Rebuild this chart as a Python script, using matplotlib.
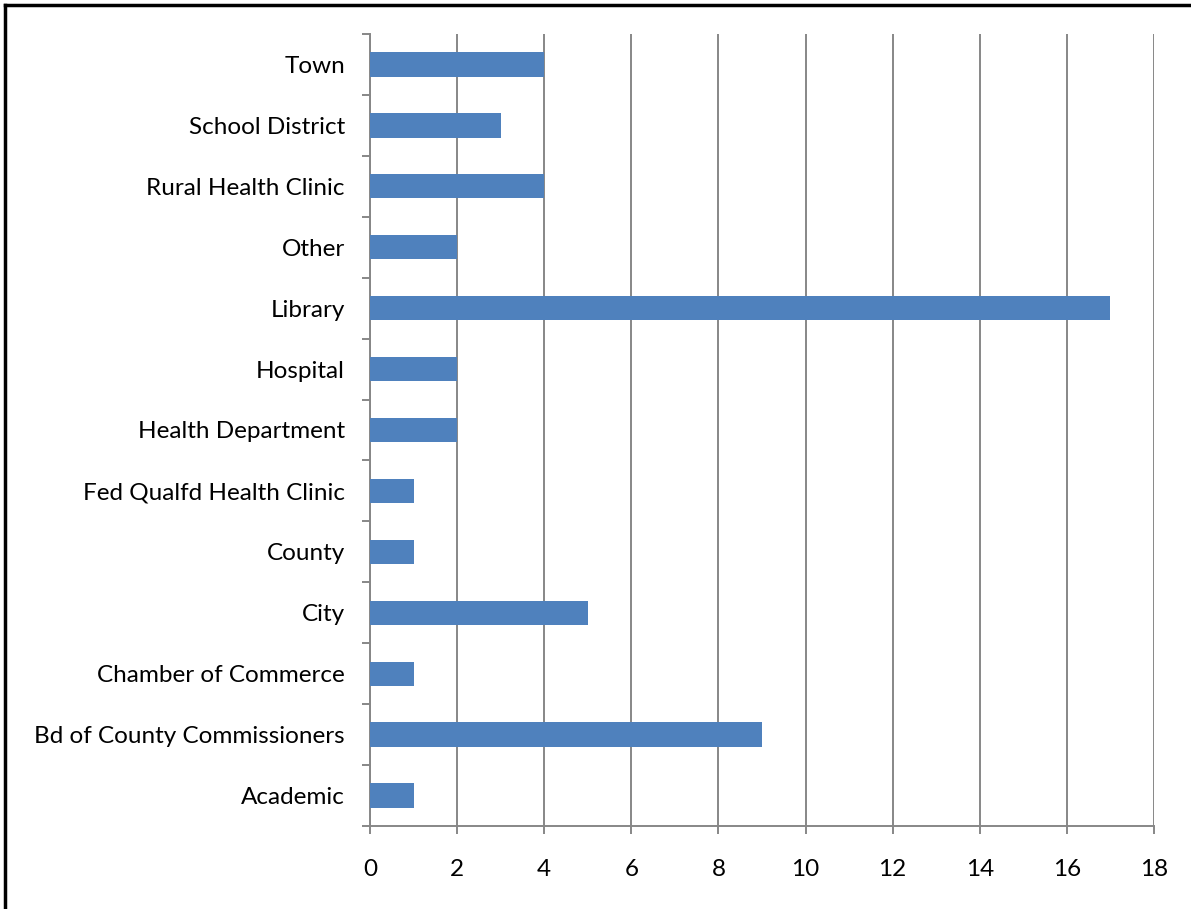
import matplotlib.pyplot as plt
from matplotlib.lines import Line2D
import numpy as np

categories = ["Academic", "Bd of County Commissioners", "Chamber of Commerce", "City",
              "County", "Fed Qualfd Health Clinic", "Health Department", "Hospital",
              "Library", "Other", "Rural Health Clinic", "School District", "Town"]
counts = [1, 9, 1, 5, 1, 1, 2, 2, 17, 2, 4, 3, 4]
xticks = [0, 2, 4, 6, 8, 10, 12, 14, 16, 18]

plt.rcParams['font.family'] = ['Lato', 'DejaVu Sans']

fig = plt.figure(figsize=(11.91, 9.09), dpi=100)
ax = fig.add_axes([370/1191, 1 - 826/909, (1154 - 370)/1191, (826 - 34)/909])

grey = '#878787'
y = np.arange(len(categories))
ax.barh(y, counts, height=0.4, color='#4F81BD', zorder=3)

ax.set_xlim(0, 18)
ax.set_ylim(-0.5, len(categories) - 0.5)
ax.set_xticks(xticks)
ax.set_xticklabels([str(t) for t in xticks])
ax.set_yticks(y)
ax.set_yticklabels(categories)
ax.set_yticks(np.arange(len(categories) + 1) - 0.5, minor=True)

ax.grid(axis='x', color=grey, linewidth=1.4, zorder=0)
ax.tick_params(axis='y', which='major', length=0, pad=18, labelsize=17.5)
ax.tick_params(axis='y', which='minor', length=6, width=1.4, color=grey, direction='out')
ax.tick_params(axis='x', which='major', length=6, width=1.4, color=grey, pad=18, labelsize=17.5)

for s in ['top', 'right']:
    ax.spines[s].set_visible(False)
for s in ['left', 'bottom']:
    ax.spines[s].set_color(grey)
    ax.spines[s].set_linewidth(1.4)

# outer chart frame (only the left and top edges are inside the picture)
fig.add_artist(Line2D([5/1191, 5/1191], [0, 1 - 5/909], color='black', linewidth=2.5,
                      transform=fig.transFigure))
fig.add_artist(Line2D([5/1191, 1], [1 - 5/909, 1 - 5/909], color='black', linewidth=2.5,
                      transform=fig.transFigure))

plt.savefig('out.png', dpi=100)
plt.close()
